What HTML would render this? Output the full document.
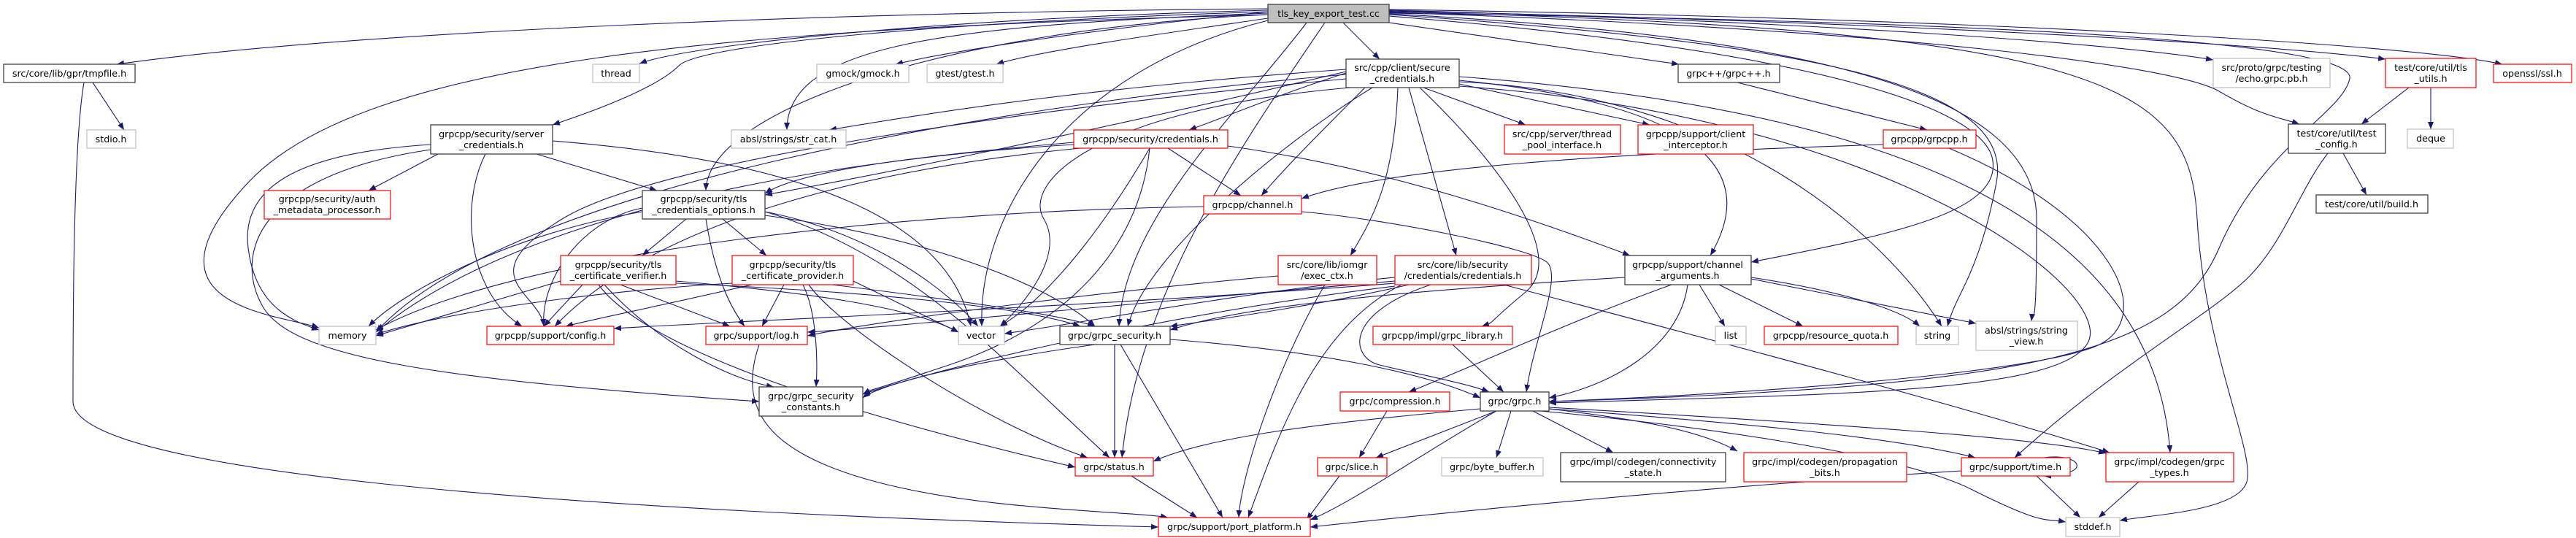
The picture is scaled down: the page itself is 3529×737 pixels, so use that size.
<!DOCTYPE html>
<html><head><meta charset="utf-8"><style>
html,body{margin:0;padding:0;background:#fff;}
svg{display:block;}
text{font-family:"DejaVu Sans","Liberation Sans",sans-serif;font-size:12.7px;fill:#000;text-anchor:middle;}
.e{fill:none;stroke:#191970;stroke-width:1.1;marker-end:url(#a);}
.b{fill:#fff;stroke:#404040;stroke-width:1.3;}
.g{fill:#fff;stroke:#bfbfbf;stroke-width:1.2;}
.r{fill:#fff;stroke:#ff0000;stroke-width:1.2;}
</style></head><body>
<svg width="3529" height="737" viewBox="0 0 3529 737" xmlns="http://www.w3.org/2000/svg">
<defs><marker id="a" markerUnits="userSpaceOnUse" markerWidth="11" markerHeight="8" refX="10" refY="4" orient="auto"><path d="M0,0 L10,4 L0,8 z" fill="#191970"/></marker></defs>
<g>
<!-- T edges -->
<path class="e" d="M1737,12 C1200,16 500,40 160,88"/>
<path class="e" d="M1737,14 C1300,25 950,60 876,87"/>
<path class="e" d="M1737,16 C1300,30 960,60 930,90 S 820,150 757,171"/>
<path class="e" d="M1737,16 C1500,40 1300,70 1227,88"/>
<path class="e" d="M1737,25 C1600,45 1420,70 1365,88"/>
<path class="e" d="M1737,18 C1300,35 1078,60 1078,178"/>
<path class="e" d="M1737,20 C1300,40 970,150 967,261"/>
<path class="e" d="M1737,28 C1450,100 1340,300 1345,447"/>
<path class="e" d="M1790,31 C1700,150 1540,300 1533,447"/>
<path class="e" d="M1737,20 C1000,40 500,80 340,250 S 380,430 437,449"/>
<path class="e" d="M1815,31 C1700,200 1560,400 1537,627"/>
<path class="e" d="M1840,31 L1890,81"/>
<path class="e" d="M1903,31 L2300,88"/>
<path class="e" d="M1903,14 C2500,30 2900,60 3032,82"/>
<path class="e" d="M1903,15 C2600,30 3100,60 3268,81"/>
<path class="e" d="M1903,13 C2700,25 3300,60 3428,88"/>
<path class="e" d="M1903,17 C2600,40 2980,90 3040,125 S 3120,160 3150,170"/>
<path class="e" d="M1903,20 C2500,60 2760,120 2735,250 S 2680,400 2668,447"/>
<path class="e" d="M1903,19 C2500,50 2790,130 2790,300 S 2785,420 2783,440"/>
<path class="e" d="M1903,22 C2500,70 2720,150 2730,220 S 2600,320 2399,359"/>
<path class="e" d="M1903,18 C2800,30 3230,60 3219,108 S 3100,200 3040,340 S 2800,530 2122,550"/>
<path class="e" d="M1903,16 C2900,40 3000,120 3010,300 S 3090,620 3078,660 S 2950,705 2904,713"/>
<!-- secure creds -->
<path class="e" d="M1950,120 L2090,171"/>
<path class="e" d="M1999,115 L2260,171"/>
<path class="e" d="M1844,100 C1750,130 1680,160 1629,178"/>
<path class="e" d="M1844,95 C1500,120 1300,150 1136,178"/>
<path class="e" d="M1844,98 C1500,180 1200,240 1048,267"/>
<path class="e" d="M1844,102 C1400,140 700,250 515,455"/>
<path class="e" d="M1844,108 C1400,150 900,220 770,300 S 740,400 745,447"/>
<path class="e" d="M1850,120 C1500,150 1400,250 1430,300 S 1400,420 1370,447"/>
<path class="e" d="M1880,120 C1750,200 1570,350 1545,447"/>
<path class="e" d="M1870,120 C1820,170 1760,230 1728,268"/>
<path class="e" d="M1915,120 C1910,250 1880,300 1850,350"/>
<path class="e" d="M1930,120 L1995,350"/>
<path class="e" d="M1945,120 C2050,220 2150,350 2090,400 S 2050,440 2030,447"/>
<path class="e" d="M1999,110 C2300,140 2420,220 2343,350"/>
<path class="e" d="M1999,112 C2400,130 2600,350 2660,447"/>
<path class="e" d="M1999,105 C2600,150 2950,300 2973,620"/>
<path class="e" d="M1999,118 C2600,160 2900,400 2860,470 S 2500,540 2122,552"/>
<!-- server creds -->
<path class="e" d="M600,211 L505,261"/>
<path class="e" d="M735,211 L900,261"/>
<path class="e" d="M590,198 C400,210 330,260 340,340 S 400,440 437,452"/>
<path class="e" d="M665,211 C630,280 640,400 715,447"/>
<path class="e" d="M757,193 C1100,220 1300,300 1330,447"/>
<path class="e" d="M590,205 C350,240 320,350 360,420 S 600,520 1040,550"/>
<!-- tls cred opts -->
<path class="e" d="M940,300 L880,350"/>
<path class="e" d="M990,300 L1050,350"/>
<path class="e" d="M967,300 C980,380 1000,420 1020,447"/>
<path class="e" d="M880,285 C800,300 740,380 745,447"/>
<path class="e" d="M880,290 C700,320 550,400 505,447"/>
<path class="e" d="M1048,290 C1200,320 1300,400 1340,447"/>
<path class="e" d="M1048,295 C1300,330 1450,400 1500,447"/>
<path class="e" d="M1048,290 C1250,350 1380,500 1520,627"/>
<!-- verifier -->
<path class="e" d="M798,390 L745,447"/>
<path class="e" d="M850,390 L1000,447"/>
<path class="e" d="M768,385 L515,460"/>
<path class="e" d="M926,385 C1100,400 1250,420 1313,455"/>
<path class="e" d="M926,388 C1200,400 1400,420 1480,447"/>
<path class="e" d="M828,390 C900,470 1000,520 1060,530"/>
<path class="e" d="M820,390 C900,500 1300,600 1473,640"/>
<!-- provider -->
<path class="e" d="M1030,390 C900,420 800,440 775,447"/>
<path class="e" d="M1074,390 L1044,447"/>
<path class="e" d="M1100,390 C1120,430 1120,500 1118,530"/>
<path class="e" d="M1108,390 C1150,450 1350,580 1490,627"/>
<path class="e" d="M1140,390 C1300,410 1450,430 1500,447"/>
<path class="e" d="M1003,388 C800,400 600,430 515,458"/>
<path class="e" d="M1169,385 L1313,455"/>
<!-- sec credentials -->
<path class="e" d="M1471,195 C1300,210 1100,230 1048,265"/>
<path class="e" d="M1600,203 L1700,268"/>
<path class="e" d="M1575,203 C1530,280 1450,400 1370,447"/>
<path class="e" d="M1480,203 C1200,230 900,300 760,447"/>
<path class="e" d="M1471,198 C1100,220 700,300 515,455"/>
<path class="e" d="M1575,203 C1560,350 1450,450 1300,500 S 1200,530 1182,540"/>
<path class="e" d="M1682,200 C1900,230 2100,300 2233,350"/>
<!-- channel.h -->
<path class="e" d="M1649,283 C1200,290 700,350 515,452"/>
<path class="e" d="M1783,290 C1900,300 2100,340 2120,360 S 2100,470 2091,537"/>
<!-- exec ctx -->
<path class="e" d="M1751,378 C1500,400 1200,440 1106,460"/>
<path class="e" d="M1815,390 C1750,500 1700,650 1697,709"/>
<!-- core creds -->
<path class="e" d="M1911,380 C1700,400 1500,440 1376,457"/>
<path class="e" d="M1930,390 C1800,420 1650,440 1603,447"/>
<path class="e" d="M1911,385 C1500,420 1200,450 1106,455"/>
<path class="e" d="M1911,388 C1500,420 1000,440 841,450"/>
<path class="e" d="M1960,390 C1840,430 1850,490 1890,500 S 2010,525 2040,537"/>
<path class="e" d="M1920,390 C1800,450 1750,600 1710,709"/>
<path class="e" d="M2060,390 C2400,480 2700,560 2890,620"/>
<path class="e" d="M1911,392 C1600,430 1300,500 1182,540"/>
<!-- chan args -->
<path class="e" d="M2328,390 L2363,447"/>
<path class="e" d="M2355,390 L2470,447"/>
<path class="e" d="M2399,380 C2500,395 2600,420 2630,447"/>
<path class="e" d="M2399,382 L2707,443"/>
<path class="e" d="M2312,390 C2300,480 2200,530 2122,545"/>
<path class="e" d="M2290,390 C2150,440 2000,510 1930,537"/>
<path class="e" d="M2226,380 C1900,400 1700,420 1603,452"/>
<!-- lower -->
<path class="e" d="M1990,472 L2060,537"/>
<path class="e" d="M1500,472 C1300,500 1200,530 1182,545"/>
<path class="e" d="M1527,472 L1527,627"/>
<path class="e" d="M1535,472 L1675,709"/>
<path class="e" d="M1603,465 C1800,480 1950,510 2028,545"/>
<path class="e" d="M1040,472 C1010,560 1050,620 1200,660 S 1550,700 1600,709"/>
<path class="e" d="M1900,563 L1862,627"/>
<path class="e" d="M2050,563 L1885,627"/>
<path class="e" d="M2070,563 L2050,627"/>
<path class="e" d="M2100,563 L2210,620"/>
<path class="e" d="M2122,560 C2250,575 2330,590 2380,618"/>
<path class="e" d="M2122,560 C2400,580 2600,600 2706,627"/>
<path class="e" d="M2122,558 C2500,580 2800,600 2885,621"/>
<path class="e" d="M2028,560 C1800,580 1650,600 1580,632"/>
<path class="e" d="M2050,563 C1950,620 1850,690 1795,712"/>
<path class="e" d="M2110,563 C2300,580 2600,620 2700,670 S 2800,710 2830,715"/>
<path class="e" d="M2790,652 L2850,709"/>
<path class="e" d="M2800,627 C2850,620 2870,650 2800,652"/>
<path class="e" d="M2687,645 C2300,670 2000,700 1795,722"/>
<path class="e" d="M2930,660 L2875,709"/>
<path class="e" d="M1550,652 L1640,709"/>
<path class="e" d="M1835,652 L1790,712"/>
<path class="e" d="M127,113 L170,178"/>
<path class="e" d="M115,113 C100,200 100,450 100,550 C100,650 800,700 1587,722"/>
<path class="e" d="M2380,113 L2640,178"/>
<path class="e" d="M2580,198 C2200,210 1900,230 1783,272"/>
<path class="e" d="M2670,203 C2900,300 2950,430 2880,470 S 2400,540 2122,550"/>
<path class="e" d="M3300,120 L3235,170"/>
<path class="e" d="M3330,120 L3330,177"/>
<path class="e" d="M3210,210 L3242,267"/>
<path class="e" d="M3189,210 C3150,260 3130,330 3080,380 S 2900,500 2760,627"/>
</g>
<g>
<rect x="1737" y="6" width="166" height="25" fill="#bfbfbf" stroke="#404040" stroke-width="1.3"/><text x="1820" y="23">tls_key_export_test.cc</text>
<rect class="b" x="5" y="88" width="180" height="25"/><text x="95" y="105">src/core/lib/gpr/tmpfile.h</text>
<rect class="g" x="119" y="178" width="67" height="25"/><text x="152" y="195">stdio.h</text>
<rect class="g" x="812" y="88" width="64" height="25"/><text x="844" y="105">thread</text>
<rect class="g" x="1119" y="88" width="126" height="25"/><text x="1182" y="105">gmock/gmock.h</text>
<rect class="g" x="1270" y="88" width="104" height="25"/><text x="1322" y="105">gtest/gtest.h</text>
<rect class="b" x="1844" y="81" width="155" height="39"/><text x="1921" y="97">src/cpp/client/secure</text><text x="1921" y="112">_credentials.h</text>
<rect class="b" x="2299" y="88" width="139" height="25"/><text x="2368" y="105">grpc++/grpc++.h</text>
<rect class="g" x="3032" y="80" width="160" height="40"/><text x="3112" y="97">src/proto/grpc/testing</text><text x="3112" y="112">/echo.grpc.pb.h</text>
<rect class="r" x="3268" y="80" width="124" height="40"/><text x="3330" y="97">test/core/util/tls</text><text x="3330" y="112">_utils.h</text>
<rect class="r" x="3416" y="88" width="107" height="25"/><text x="3469" y="105">openssl/ssl.h</text>
<rect class="b" x="590" y="171" width="167" height="40"/><text x="673" y="188">grpcpp/security/server</text><text x="673" y="203">_credentials.h</text>
<rect class="g" x="1002" y="178" width="157" height="25"/><text x="1080" y="195">absl/strings/str_cat.h</text>
<rect class="r" x="1471" y="178" width="211" height="25"/><text x="1576" y="195">grpcpp/security/credentials.h</text>
<rect class="r" x="2061" y="171" width="159" height="40"/><text x="2140" y="188">src/cpp/server/thread</text><text x="2140" y="203">_pool_interface.h</text>
<rect class="r" x="2244" y="171" width="158" height="40"/><text x="2323" y="188">grpcpp/support/client</text><text x="2323" y="203">_interceptor.h</text>
<rect class="r" x="2580" y="178" width="127" height="25"/><text x="2643" y="195">grpcpp/grpcpp.h</text>
<rect class="b" x="3135" y="170" width="133" height="40"/><text x="3201" y="187">test/core/util/test</text><text x="3201" y="202">_config.h</text>
<rect class="g" x="3298" y="177" width="63" height="26"/><text x="3330" y="194">deque</text>
<rect class="r" x="362" y="261" width="173" height="39"/><text x="448" y="277">grpcpp/security/auth</text><text x="448" y="292">_metadata_processor.h</text>
<rect class="b" x="880" y="261" width="168" height="39"/><text x="964" y="277">grpcpp/security/tls</text><text x="964" y="292">_credentials_options.h</text>
<rect class="r" x="1649" y="268" width="134" height="25"/><text x="1716" y="285">grpcpp/channel.h</text>
<rect class="b" x="3173" y="267" width="153" height="25"/><text x="3249" y="284">test/core/util/build.h</text>
<rect class="r" x="768" y="350" width="158" height="40"/><text x="847" y="367">grpcpp/security/tls</text><text x="847" y="382">_certificate_verifier.h</text>
<rect class="r" x="1003" y="350" width="166" height="40"/><text x="1086" y="367">grpcpp/security/tls</text><text x="1086" y="382">_certificate_provider.h</text>
<rect class="r" x="1751" y="350" width="135" height="40"/><text x="1818" y="367">src/core/lib/iomgr</text><text x="1818" y="382">/exec_ctx.h</text>
<rect class="r" x="1911" y="350" width="187" height="40"/><text x="2004" y="367">src/core/lib/security</text><text x="2004" y="382">/credentials/credentials.h</text>
<rect class="b" x="2226" y="350" width="173" height="40"/><text x="2312" y="367">grpcpp/support/channel</text><text x="2312" y="382">_arguments.h</text>
<rect class="g" x="437" y="447" width="78" height="25"/><text x="476" y="464">memory</text>
<rect class="r" x="667" y="447" width="174" height="25"/><text x="754" y="464">grpcpp/support/config.h</text>
<rect class="r" x="967" y="447" width="139" height="25"/><text x="1036" y="464">grpc/support/log.h</text>
<rect class="g" x="1313" y="447" width="63" height="25"/><text x="1344" y="464">vector</text>
<rect class="b" x="1452" y="447" width="151" height="25"/><text x="1527" y="464">grpc/grpc_security.h</text>
<rect class="r" x="1881" y="447" width="191" height="25"/><text x="1976" y="464">grpcpp/impl/grpc_library.h</text>
<rect class="g" x="2350" y="447" width="42" height="25"/><text x="2371" y="464">list</text>
<rect class="r" x="2417" y="447" width="183" height="25"/><text x="2508" y="464">grpcpp/resource_quota.h</text>
<rect class="g" x="2625" y="447" width="58" height="25"/><text x="2654" y="464">string</text>
<rect class="g" x="2707" y="440" width="139" height="40"/><text x="2776" y="457">absl/strings/string</text><text x="2776" y="472">_view.h</text>
<rect class="b" x="1040" y="530" width="142" height="40"/><text x="1111" y="547">grpc/grpc_security</text><text x="1111" y="562">_constants.h</text>
<rect class="r" x="1836" y="537" width="150" height="26"/><text x="1911" y="554">grpc/compression.h</text>
<rect class="b" x="2028" y="537" width="94" height="26"/><text x="2075" y="554">grpc/grpc.h</text>
<rect class="r" x="1473" y="627" width="107" height="25"/><text x="1526" y="644">grpc/status.h</text>
<rect class="r" x="1805" y="627" width="95" height="25"/><text x="1852" y="644">grpc/slice.h</text>
<rect class="g" x="1975" y="627" width="139" height="25"/><text x="2044" y="644">grpc/byte_buffer.h</text>
<rect class="b" x="2138" y="620" width="226" height="40"/><text x="2251" y="637">grpc/impl/codegen/connectivity</text><text x="2251" y="652">_state.h</text>
<rect class="r" x="2389" y="620" width="223" height="40"/><text x="2500" y="637">grpc/impl/codegen/propagation</text><text x="2500" y="652">_bits.h</text>
<rect class="r" x="2687" y="627" width="149" height="25"/><text x="2761" y="644">grpc/support/time.h</text>
<rect class="r" x="2885" y="620" width="175" height="40"/><text x="2972" y="637">grpc/impl/codegen/grpc</text><text x="2972" y="652">_types.h</text>
<rect class="r" x="1587" y="709" width="208" height="26"/><text x="1691" y="726">grpc/support/port_platform.h</text>
<rect class="g" x="2830" y="709" width="74" height="26"/><text x="2867" y="726">stddef.h</text>
</g>
</svg>
</body></html>
